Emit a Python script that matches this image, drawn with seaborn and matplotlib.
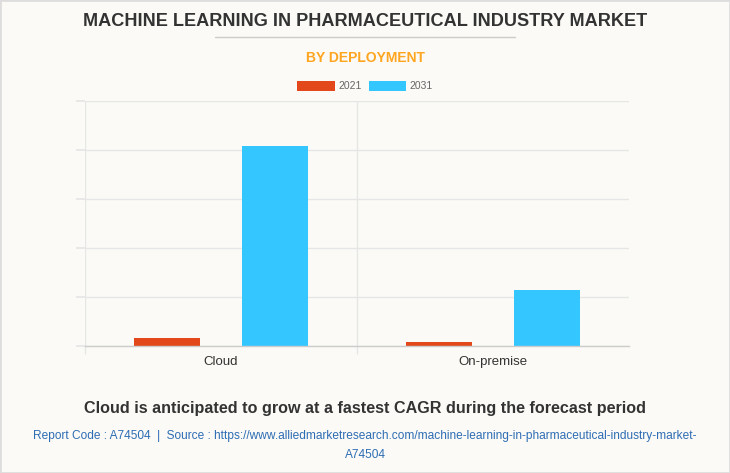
import matplotlib
matplotlib.use("Agg")
import matplotlib.pyplot as plt
import matplotlib.patches as mpatches
import seaborn as sns
import pandas as pd

categories = ["Cloud", "On-premise"]
years = ["2021", "2031"]
values_2021 = [0.16, 0.08]
values_2031 = [4.08, 1.14]

colors = {"2021": "#E2481A", "2031": "#33C6FF"}
bg = "#FBFAF6"

df = pd.DataFrame({
    "Deployment": categories * 2,
    "Year": [years[0]] * len(categories) + [years[1]] * len(categories),
    "Value": values_2021 + values_2031,
})

sns.set_theme(style="white")
plt.rcParams['font.family'] = ['Liberation Sans', 'DejaVu Sans']

fig = plt.figure(figsize=(7.3, 4.73), dpi=100, facecolor=bg)
ax = fig.add_axes([85/730, 1 - 346/473, (629-85)/730, (346-101)/473])
ax.set_facecolor(bg)

sns.barplot(data=df, x="Deployment", y="Value", hue="Year", order=categories,
            hue_order=years, palette=colors, width=0.8, gap=0.393,
            saturation=1, ax=ax, legend=False, edgecolor="none")

ax.set_xlim(-0.5, 1.5)
ax.set_ylim(0, 5)
ax.set_yticks([0, 1, 2, 3, 4, 5])
ax.set_yticklabels([])
ax.set_xticks([0, 1])
ax.set_xticklabels(categories, fontsize=9.5, color="#333333")
ax.set_xticks([-0.5, 0.5], minor=True)
ax.set_xlabel("")
ax.set_ylabel("")
ax.grid(True, axis="y", color="#E6E6E6", linewidth=1)
ax.grid(True, axis="x", which="minor", color="#E6E6E6", linewidth=1)
ax.set_axisbelow(True)
ax.tick_params(axis="y", which="major", length=6.5, color="#E6E6E6", left=True)
ax.tick_params(axis="x", which="major", length=0, pad=7)
ax.tick_params(axis="x", which="minor", length=6, color="#E6E6E6", bottom=True)
for s in ["top", "right", "left"]:
    ax.spines[s].set_visible(False)
ax.spines["bottom"].set_color("#CCCCCC")
ax.spines["bottom"].set_linewidth(1)

# Title texts
fig.text(0.5, 1 - 21/473, "MACHINE LEARNING IN PHARMACEUTICAL INDUSTRY MARKET",
         ha="center", va="center", fontsize=13.1, fontweight="bold", color="#333333")
fig.add_artist(plt.Line2D([215/730, 515/730], [1 - 37/473, 1 - 37/473],
                          color="#CCCCCC", linewidth=1))
fig.text(0.5, 1 - 58/473, "BY DEPLOYMENT", ha="center", va="center",
         fontsize=10, fontweight="bold", color="#FFA51F")

# Legend
handles = [mpatches.Patch(facecolor=colors[y], edgecolor="none", label=y) for y in years]
fig.legend(handles=handles, loc="center", bbox_to_anchor=(0.5, 1 - 86/473), ncol=2,
           frameon=False, fontsize=7.5, handlelength=3.6, handleheight=1.2,
           handletextpad=0.3, columnspacing=0.7, labelcolor="#666666")

# Bottom texts
fig.text(0.5, 1 - 408/473, "Cloud is anticipated to grow at a fastest CAGR during the forecast period",
         ha="center", va="center", fontsize=11.6, fontweight="bold", color="#333333")
fig.text(0.5, 1 - 436/473,
         "Report Code : A74504  |  Source : https://www.alliedmarketresearch.com/machine-learning-in-pharmaceutical-industry-market-",
         ha="center", va="center", fontsize=8.6, color="#2E6DB4")
fig.text(0.5, 1 - 455/473, "A74504", ha="center", va="center", fontsize=8.6, color="#2E6DB4")

# Border
fig.add_artist(mpatches.Rectangle((0, 0), 1, 1, transform=fig.transFigure, fill=False,
                                  edgecolor="#DDDDDD", linewidth=2))

fig.savefig("out.png", dpi=100, facecolor=bg)
